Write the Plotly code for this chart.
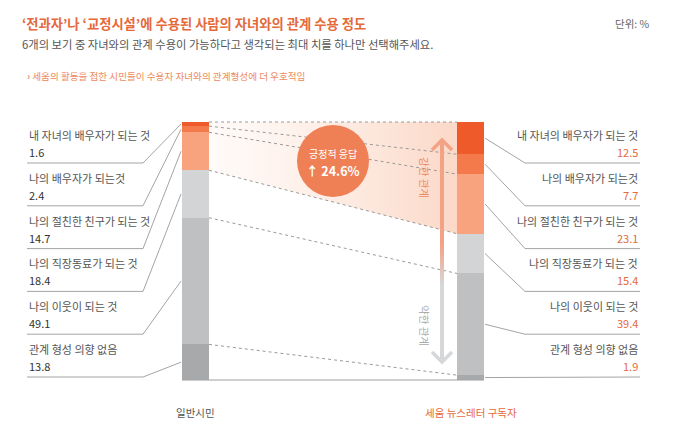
import numpy as np
import plotly.graph_objects as go

# 데이터
categories = ['내 자녀의 배우자가 되는 것', '나의 배우자가 되는것', '나의 절친한 친구가 되는 것',
              '나의 직장동료가 되는 것', '나의 이웃이 되는 것', '관계 형성 의향 없음']
general = [1.6, 2.4, 14.7, 18.4, 49.1, 13.8]        # 일반시민
subscribers = [12.5, 7.7, 23.1, 15.4, 39.4, 1.9]    # 세움 뉴스레터 구독자
group_labels = ['일반시민', '세움 뉴스레터 구독자']
positive_gap = 24.6

COLORS = ['#EE5A2A', '#F47A4B', '#F9A27E', '#D3D4D6', '#BFC0C2', '#A8A9AB']
ORANGE = '#E5693B'
FONT = 'Noto Sans CJK KR'

W, H = 678, 435
OFF = 8                 # 페이지 body 여백 보정
TOP, BOT = 122, 380
PX = (BOT - TOP) / 100.0          # 퍼센트당 픽셀


def yp(px):
    """화면 픽셀 y -> 축 값"""
    return (px - TOP) / PX


XL, XR = 195.5, 470.5   # 막대 중심 (화면 픽셀)
BW = 27

fig = go.Figure()

# 강한 관계 영역 (그라데이션)
cum_l = np.concatenate([[0], np.cumsum(general)])
cum_r = np.concatenate([[0], np.cumsum(subscribers)])
xa, xb = XL + BW / 2, XR - BW / 2
fig.add_trace(go.Scatter(
    x=[xa, xb, xb, xa, xa], y=[0, 0, cum_r[3], cum_l[3], 0],
    mode='lines', line=dict(width=0), fill='toself',
    fillgradient=dict(type='horizontal',
                      colorscale=[[0, 'rgba(255,248,244,0.6)'], [1, 'rgba(251,214,196,0.95)']]),
    hoverinfo='skip', showlegend=False))

# 막대
for i, cat in enumerate(categories):
    fig.add_trace(go.Bar(
        x=[XL, XR], y=[general[i], subscribers[i]], width=[BW, BW],
        marker=dict(color=COLORS[i], line=dict(width=0)),
        name=cat, showlegend=False, hoverinfo='skip'))

# 점선 연결선
for k in range(0, 6):
    fig.add_trace(go.Scatter(
        x=[xa, xb], y=[cum_l[k], cum_r[k]], mode='lines',
        line=dict(color='#9A9A9A', width=1, dash='dot'),
        hoverinfo='skip', showlegend=False))
fig.add_trace(go.Scatter(
    x=[xa - BW, xb + BW], y=[100, 100], mode='lines',
    line=dict(color='#A0A0A0', width=1), hoverinfo='skip', showlegend=False))

# 화살표 (강한 관계 / 약한 관계)
AX = 442
fig.add_trace(go.Scatter(
    x=[AX - 2, AX + 2, AX + 2, AX - 2, AX - 2],
    y=[yp(141), yp(141), yp(361), yp(361), yp(141)],
    mode='lines', line=dict(width=0), fill='toself',
    fillgradient=dict(type='vertical', start=yp(245), stop=yp(285),
                      colorscale=[[0, '#F4A286'], [1, '#D6D7D9']]),
    hoverinfo='skip', showlegend=False))
fig.add_trace(go.Scatter(
    x=[AX - 10, AX, AX + 10], y=[yp(150), yp(140), yp(150)], mode='lines',
    line=dict(color='#F4A286', width=3.5), hoverinfo='skip', showlegend=False))
fig.add_trace(go.Scatter(
    x=[AX - 10, AX, AX + 10], y=[yp(352), yp(362), yp(352)], mode='lines',
    line=dict(color='#D6D7D9', width=3.5), hoverinfo='skip', showlegend=False))

# 라벨 + 지시선
for i, cat in enumerate(categories):
    ly = 135 + 42.8 * i
    uy = ly + 28
    # 왼쪽
    fig.add_trace(go.Scatter(
        x=[27, 143, XL - BW / 2 - 1], y=[yp(uy), yp(uy), cum_l[i] + general[i] / 2],
        mode='lines', line=dict(color='#9A9A9A', width=0.9),
        hoverinfo='skip', showlegend=False))
    fig.add_annotation(x=27, y=yp(ly), text=cat, xanchor='left', showarrow=False,
                       font=dict(size=11, color='#555555', family=FONT))
    fig.add_annotation(x=27, y=yp(ly + 17), text=f'{general[i]}', xanchor='left', showarrow=False,
                       font=dict(size=11, color='#333333', family=FONT))
    # 오른쪽
    fig.add_trace(go.Scatter(
        x=[640, 525, XR + BW / 2 + 1], y=[yp(uy), yp(uy), cum_r[i] + subscribers[i] / 2],
        mode='lines', line=dict(color='#9A9A9A', width=0.9),
        hoverinfo='skip', showlegend=False))
    fig.add_annotation(x=640, y=yp(ly), text=cat, xanchor='right', showarrow=False,
                       font=dict(size=11, color='#555555', family=FONT))
    fig.add_annotation(x=640, y=yp(ly + 17), text=f'{subscribers[i]}', xanchor='right', showarrow=False,
                       font=dict(size=11, color=ORANGE, family=FONT))

# 긍정적 응답 원
fig.add_shape(type='circle', xref='x', yref='y', x0=297, x1=369, y0=yp(125), y1=yp(197),
              fillcolor='#EF7F55', line=dict(width=0), layer='above')
fig.add_annotation(x=333, y=yp(153), text='긍정적 응답', showarrow=False,
                   font=dict(size=10, color='white', family=FONT))
fig.add_annotation(x=333, y=yp(170), text=f'<b>↑ {positive_gap}%</b>', showarrow=False,
                   font=dict(size=12.5, color='white', family=FONT))

fig.add_annotation(x=425, y=yp(177), text='강한 관계', textangle=90, showarrow=False,
                   font=dict(size=10.5, color='#F08A63', family=FONT))
fig.add_annotation(x=425, y=yp(325), text='약한 관계', textangle=90, showarrow=False,
                   font=dict(size=10.5, color='#A9AAAC', family=FONT))

# 그룹 라벨
fig.add_annotation(x=XL, y=yp(412), text=group_labels[0], showarrow=False,
                   font=dict(size=10.5, color='#555555', family=FONT))
fig.add_annotation(x=XR, y=yp(412), text=group_labels[1], showarrow=False,
                   font=dict(size=10.5, color=ORANGE, family=FONT))

# 제목
fig.add_annotation(x=20, y=yp(23), xanchor='left', showarrow=False,
                   text="<b>‘전과자’나 ‘교정시설’에 수용된 사람의 자녀와의 관계 수용 정도</b>",
                   font=dict(size=13.3, color=ORANGE, family=FONT))
fig.add_annotation(x=652, y=yp(23), xanchor='right', showarrow=False, text='단위: %',
                   font=dict(size=10.5, color='#666666', family=FONT))
fig.add_annotation(x=20, y=yp(44), xanchor='left', showarrow=False,
                   text='6개의 보기 중 자녀와의 관계 수용이 가능하다고 생각되는 최대 치를 하나만 선택해주세요.',
                   font=dict(size=11.3, color='#555555', family=FONT))
fig.add_annotation(x=25, y=yp(76), xanchor='left', showarrow=False,
                   text='<b>›</b> 세움의 활동을 접한 시민들이 수용자 자녀와의 관계형성에 더 우호적임',
                   font=dict(size=9.6, color='#EE8A5E', family=FONT))

fig.update_layout(
    width=W, height=H,
    margin=dict(l=0, r=0, t=0, b=0),
    paper_bgcolor='white', plot_bgcolor='white',
    barmode='stack', bargap=0,
    xaxis=dict(range=[OFF, W + OFF], visible=False, fixedrange=True),
    yaxis=dict(range=[yp(H + OFF), yp(OFF)], visible=False, fixedrange=True),
    font=dict(family=FONT),
)

fig.write_html("out.html")
